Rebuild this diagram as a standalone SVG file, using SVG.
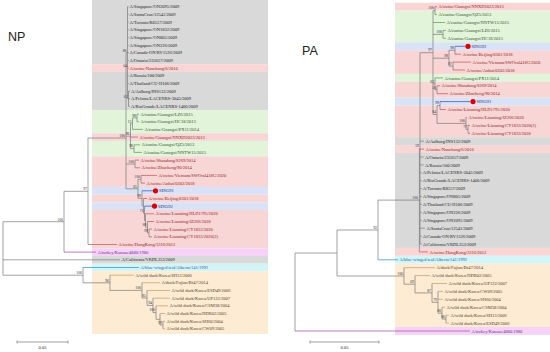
<svg xmlns="http://www.w3.org/2000/svg" width="550" height="352" viewBox="0 0 550 352">
<style>
.t{font-family:"Liberation Serif","Times New Roman",serif;font-size:4.5px}
.pd{fill:#1a1a1a}.sw{fill:#8e1c1c}.cn{fill:#2c552c}.sd{fill:#1f3480}.tk{fill:#6a2c96}.tl{fill:#1f5f9a}.dk{fill:#4f3f26}
.bs{font-family:"Liberation Serif","Times New Roman",serif;font-size:3.8px;fill:#333;text-anchor:end}
.e{fill:none;stroke:#7a7a7a;stroke-width:0.7}
.es{stroke:#c0504d}.ec{stroke:#5a9a4a}.eb{stroke:#2e4fb8}.et{stroke:#a040b0}.el{stroke:#2090c8}.ed{stroke:#c89a5a}
.dot{fill:#dd0000}
.title{font-family:"Liberation Sans",Arial,sans-serif;font-size:12.5px;fill:#222}
.g{fill:#d9d9d9}.p{fill:#f9d6d6}.gr{fill:#e2f4d9}.b{fill:#d9e2f6}.m{fill:#f6d3f6}.c{fill:#d3f5f7}.o{fill:#fdebd3}
</style>
<rect width="550" height="352" fill="#fff"/>
<g id="bands">
<rect class="g" x="92" y="0" width="176" height="64.2"/>
<rect class="p" x="92" y="64.2" width="176" height="7.7"/>
<rect class="g" x="92" y="71.9" width="176" height="38.35"/>
<rect class="gr" x="92" y="110.25" width="176" height="23.01"/>
<rect class="p" x="92" y="133.26" width="176" height="7.67"/>
<rect class="gr" x="92" y="140.93" width="176" height="15.34"/>
<rect class="p" x="92" y="156.27" width="176" height="30.68"/>
<rect class="b" x="92" y="186.95" width="176" height="7.67"/>
<rect class="p" x="92" y="194.62" width="176" height="7.67"/>
<rect class="b" x="92" y="202.29" width="176" height="7.67"/>
<rect class="p" x="92" y="209.96" width="176" height="38.35"/>
<rect class="m" x="92" y="248.31" width="176" height="7.67"/>
<rect class="g" x="92" y="255.98" width="176" height="7.67"/>
<rect class="c" x="92" y="263.65" width="176" height="7.67"/>
<rect class="o" x="92" y="271.32" width="176" height="62.68"/>
<rect class="p" x="395" y="2.75" width="155" height="7.9"/>
<rect class="gr" x="395" y="10.65" width="155" height="31.65"/>
<rect class="b" x="395" y="42.3" width="155" height="7.9"/>
<rect class="p" x="395" y="50.2" width="155" height="23.7"/>
<rect class="gr" x="395" y="73.9" width="155" height="7.9"/>
<rect class="p" x="395" y="81.8" width="155" height="15.9"/>
<rect class="b" x="395" y="97.7" width="155" height="7.9"/>
<rect class="p" x="395" y="105.6" width="155" height="31.6"/>
<rect class="g" x="395" y="137.2" width="155" height="7.9"/>
<rect class="p" x="395" y="145.1" width="155" height="7.9"/>
<rect class="g" x="395" y="153" width="155" height="94.9"/>
<rect class="p" x="395" y="247.9" width="155" height="7.9"/>
<rect class="c" x="395" y="255.8" width="155" height="7.9"/>
<rect class="o" x="395" y="263.7" width="155" height="63.3"/>
<rect class="m" x="395" y="327" width="155" height="7.9"/>
</g>
<text class="title" x="8" y="41">NP</text>
<text class="title" x="302" y="55">PA</text>
<g id="connectors">
<path class="e" d="M3 221.7V275.2M3 221.7H64M64 191.3V252.1M64 191.3H88M88 138V244.5M88 138H126M126 52.7V188.8M126 52.7H127.5M127.5 6.7V98.7M127.5 98.7H128.5M128.5 91.1V106.4M126 136.2H130.5M130.5 123.7V148.6M130.5 123.7H132.5M132.5 117.9V129.4M132.5 117.9H137M137 114.1V121.8M130.5 148.6H134M134 144.8V152.4M126 164H135M135 160.1V167.8M126 188.8H138M138 179.3V198.3M138 179.3H141M141 175.4V183.1M138 198.3H142M142 190.8V205.9M142 205.9H143.5M143.5 198.5V213.3M143.5 213.3H144.5M144.5 206.1V220.5M144.5 220.5H145.5M145.5 213.8V227.2M145.5 227.2H147.5M147.5 221.5V233M147.5 233H149M149 229.1V236.8M3 275.2H83M83 267.5V282.8M83 282.8H110M110 275.2V290.4M110 290.4H142M142 282.8V298M142 298H147M147 290.5V305.4M147 305.4H153M153 298.2V312.6M153 312.6H156M156 305.8V319.3M156 319.3H160M160 313.5V325M160 325H163M163 321.2V328.8"/>
<path class="e" d="M127.5 6.7H128.7M127.5 14.4H128.7M127.5 22H128.7M127.5 29.7H128.7M127.5 37.4H128.7M127.5 45.1H128.7M127.5 52.7H128.7M127.5 60.4H128.7M127.5 75.7H128.7M127.5 83.4H128.7M128.5 91.1H130M128.5 98.7H130M128.5 106.4H130M3 259.8H120"/>
<path class="e es" d="M127.5 68.1H128.7M130.5 137.1H138M135 160.1H139M135 167.8H140M141 175.4H157M141 183.1H145M143.5 198.5H147M145.5 213.8H154M147.5 221.5H154M149 229.1H152M149 236.8H152M88 244.5H117"/>
<path class="e ec" d="M137 114.1H139M137 121.8H139M132.5 129.4H143M134 144.8H140M134 152.4H142"/>
<path class="e eb" d="M142 190.8H153M144.5 206.1H152"/>
<path class="e et" d="M64 252.1H96"/>
<path class="e el" d="M83 267.5H139"/>
<path class="e ed" d="M110 275.2H134M142 282.8H160M147 290.5H170M153 298.2H170M156 305.8H168M160 313.5H165M163 321.2H165M163 328.8H165"/>
<path class="e" d="M295 253V331M295 253H337M337 230V276M337 230H378M378 200.1V259.8M378 200.1H419.4M419.4 148.4V251.9M419.4 148.4H420M420 52.7V244M420 52.7H433M433 10.7V114.5M433 10.7H435M435 6.7V14.6M433 34.4H443M443 30.4V38.3M433 58.2H449M449 50.3V66.1M449 50.3H455M455 46.3V54.2M449 66.1H453M453 62.1V70M433 83.8H435M435 77.9V89.8M435 89.8H437M437 85.8V93.7M433 114.5H437M437 105.6V123.4M437 105.6H440M440 101.6V109.5M437 123.4H466M466 117.4V129.4M466 129.4H468M468 125.4V133.3M337 276H404M404 267.7V284.2M404 284.2H415M415 275.6V292.9M415 292.9H432M432 283.5V302.3M432 302.3H438M438 291.4V313.2M438 313.2H442M442 307.2V319.1M442 319.1H446M446 315.2V323.1"/>
<path class="e" d="M420 141.2H424M420 157H423.5M420 164.9H423.5M420 172.8H421.8M420 180.7H421.8M420 188.6H421.8M420 196.5H421.8M420 204.4H421.8M420 212.3H421.8M420 220.3H421.8M420 228.2H425M420 236.1H421.8M420 244H421.8"/>
<path class="e es" d="M435 6.7H437M455 54.2H461M453 62.1H471M453 70H465M437 85.8H440M437 93.7H448M440 109.5H446M466 117.4H467M468 125.4H470M468 133.3H470M420 149.1H424M419.4 251.9H428"/>
<path class="e ec" d="M435 14.6H437M433 22.5H445M443 30.4H446M443 38.3H446M435 77.9H443"/>
<path class="e eb" d="M455 46.3H465M440 101.6H470"/>
<path class="e el" d="M378 259.8H398"/>
<path class="e ed" d="M404 267.7H435M415 275.6H430M432 283.5H447M438 291.4H443M438 299.3H443M442 307.2H445M446 315.2H449M446 323.1H449"/>
<path class="e et" d="M295 331H470"/>
</g>
<g id="support">
<text class="bs" x="63" y="220.5">100</text>
<text class="bs" x="87" y="190">97</text>
<text class="bs" x="125" y="136.8">100</text>
<text class="bs" x="126.5" y="51.5">88</text>
<text class="bs" x="127" y="67">64</text>
<text class="bs" x="127.5" y="97.5">63</text>
<text class="bs" x="136" y="116.7">98</text>
<text class="bs" x="131.5" y="122.5">13</text>
<text class="bs" x="129.5" y="135">96</text>
<text class="bs" x="133" y="147.4">98</text>
<text class="bs" x="134" y="162.8">100</text>
<text class="bs" x="140" y="178.1">100</text>
<text class="bs" x="137" y="187.6">65</text>
<text class="bs" x="141" y="197.1">99</text>
<text class="bs" x="143.5" y="212.1">71</text>
<text class="bs" x="146.5" y="226">88</text>
<text class="bs" x="148" y="231.8">99</text>
<text class="bs" x="82" y="274">100</text>
<text class="bs" x="109" y="281.6">96</text>
<text class="bs" x="141" y="289.2">100</text>
<text class="bs" x="146" y="296.8">85</text>
<text class="bs" x="152" y="304.2">94</text>
<text class="bs" x="155" y="311.4">100</text>
<text class="bs" x="162" y="323.8">99</text>
<text class="bs" x="434" y="9.4">100</text>
<text class="bs" x="442" y="33.1">100</text>
<text class="bs" x="432" y="51.4">97</text>
<text class="bs" x="454" y="49">98</text>
<text class="bs" x="448" y="56.9">98</text>
<text class="bs" x="452" y="64.8">87</text>
<text class="bs" x="434" y="82.5">62</text>
<text class="bs" x="436" y="88.5">50</text>
<text class="bs" x="439" y="104.3">99</text>
<text class="bs" x="436" y="113.2">84</text>
<text class="bs" x="465" y="122.1">100</text>
<text class="bs" x="467" y="128.1">77</text>
<text class="bs" x="419" y="147.1">59</text>
<text class="bs" x="418" y="198.8">100</text>
<text class="bs" x="377" y="228.7">92</text>
<text class="bs" x="403" y="274.7">100</text>
<text class="bs" x="414" y="282.9">69</text>
<text class="bs" x="431" y="291.6">87</text>
<text class="bs" x="437" y="301">79</text>
<text class="bs" x="441" y="311.9">88</text>
<text class="bs" x="445" y="317.8">86</text>
</g>
<g id="np-leaves">
<g id="np01"><text class="t pd" x="129.5" y="8.3">A/Singapore/ON2095/2009</text></g>
<g id="np02"><text class="t pd" x="129.5" y="16">A/SantaCruz/12541/2009</text></g>
<g id="np03"><text class="t pd" x="129.5" y="23.6">A/Toronto/R8557/2009</text></g>
<g id="np04"><text class="t pd" x="129.5" y="31.3">A/Singapore/ON1832/2009</text></g>
<g id="np05"><text class="t pd" x="129.5" y="39">A/Singapore/ON805/2009</text></g>
<g id="np06"><text class="t pd" x="129.5" y="46.7">A/Singapore/ON226/2009</text></g>
<g id="np07"><text class="t pd" x="129.5" y="54.3">A/Canada-ON/RV1526/2009</text></g>
<g id="np08"><text class="t pd" x="129.5" y="62">A/Ontario/235657/2009</text></g>
<g id="np09"><text class="t sw" x="129.5" y="69.7">A/swine/Nanchang/6/2010</text></g>
<g id="np10"><text class="t pd" x="129.5" y="77.3">A/Russia/100/2009</text></g>
<g id="np11"><text class="t pd" x="129.5" y="85">A/Thailand/CU-H106/2009</text></g>
<g id="np12"><text class="t pd" x="131" y="92.7">A/Aalborg/INS132/2009</text></g>
<g id="np13"><text class="t pd" x="131" y="100.3">A/Pelotas/LACENRS-3045/2009</text></g>
<g id="np14"><text class="t pd" x="131" y="108">A/RioGrande/LACENRS-1406/2009</text></g>
<g id="np15"><text class="t cn" x="140.5" y="115.7">A/canine/Guangxi/LZ6/2015</text></g>
<g id="np16"><text class="t cn" x="140.5" y="123.4">A/canine/Guangxi/HC18/2013</text></g>
<g id="np17"><text class="t cn" x="144.5" y="131">A/canine/Guangxi/PX11/2014</text></g>
<g id="np18"><text class="t sw" x="139.5" y="138.7">A/swine/Guangxi/NNXD2023/2013</text></g>
<g id="np19"><text class="t cn" x="141.5" y="146.4">A/canine/Guangxi/QZ5/2013</text></g>
<g id="np20"><text class="t cn" x="143.5" y="154">A/canine/Guangxi/NNTW15/2015</text></g>
<g id="np21"><text class="t sw" x="140.5" y="161.7">A/swine/Shandong/S269/2014</text></g>
<g id="np22"><text class="t sw" x="141.5" y="169.4">A/swine/Zhucheng/90/2014</text></g>
<g id="np23"><text class="t sw" x="158.5" y="177">A/swine/Vietnam/SWOral418G/2020</text></g>
<g id="np24"><text class="t sw" x="146.5" y="184.7">A/swine/Anhui/0202/2018</text></g>
<g id="np25"><circle class="dot" cx="155.5" cy="190.8" r="2.6"/><text class="t sd" x="159" y="192.4">SD6591</text></g>
<g id="np26"><text class="t sw" x="148.5" y="200.1">A/swine/Beijing/0301/2018</text></g>
<g id="np27"><circle class="dot" cx="154.5" cy="206.1" r="2.6"/><text class="t sd" x="158" y="207.7">SD6592</text></g>
<g id="np28"><text class="t sw" x="155.5" y="215.4">A/swine/Liaoning/HLD1795/2020</text></g>
<g id="np29"><text class="t sw" x="155.5" y="223.1">A/swine/Liaoning/JZ266/2020</text></g>
<g id="np30"><text class="t sw" x="153.5" y="230.7">A/swine/Liaoning/CY1833/2020</text></g>
<g id="np31"><text class="t sw" x="153.5" y="238.4">A/swine/Liaoning/CY1833/2020(2)</text></g>
<g id="np32"><text class="t sw" x="118.5" y="246.1">A/swine/HongKong/3316/2012</text></g>
<g id="np33"><text class="t tk" x="97.5" y="253.7">A/turkey/Kansas/4880/1980</text></g>
<g id="np34"><text class="t pd" x="121.5" y="261.4">A/California/VRDL353/2009</text></g>
<g id="np35"><text class="t tl" x="140.5" y="269.1">A/blue-winged teal/Alberta/141/1992</text></g>
<g id="np36"><text class="t dk" x="135.5" y="276.8">A/wild duck/Korea/SH13/2006</text></g>
<g id="np37"><text class="t dk" x="161.5" y="284.4">A/duck/Fujian/Bf47/2014</text></g>
<g id="np38"><text class="t dk" x="171.5" y="292.1">A/wild duck/Korea/ESD49/2006</text></g>
<g id="np39"><text class="t dk" x="171.5" y="299.8">A/wild duck/Korea/UP122/2007</text></g>
<g id="np40"><text class="t dk" x="169.5" y="307.4">A/wild duck/Korea/CSM38/2004</text></g>
<g id="np41"><text class="t dk" x="166.5" y="315.1">A/wild duck/Korea/HDR02/2005</text></g>
<g id="np42"><text class="t dk" x="166.5" y="322.8">A/wild duck/Korea/SH60/2004</text></g>
<g id="np43"><text class="t dk" x="166.5" y="330.4">A/wild duck/Korea/CW09/2005</text></g>
</g>
<g id="pa-leaves">
<g id="pa01"><text class="t sw" x="438.5" y="8.3">A/swine/Guangxi/NNXD2023/2013</text></g>
<g id="pa02"><text class="t cn" x="438.5" y="16.2">A/canine/Guangxi/QZ5/2013</text></g>
<g id="pa03"><text class="t cn" x="446.5" y="24.1">A/canine/Guangxi/NNTW15/2015</text></g>
<g id="pa04"><text class="t cn" x="447.5" y="32">A/canine/Guangxi/LZ6/2015</text></g>
<g id="pa05"><text class="t cn" x="447.5" y="39.9">A/canine/Guangxi/HC18/2013</text></g>
<g id="pa06"><circle class="dot" cx="468" cy="46.3" r="2.6"/><text class="t sd" x="471.5" y="47.9">SD6592</text></g>
<g id="pa07"><text class="t sw" x="462.5" y="55.8">A/swine/Beijing/0301/2018</text></g>
<g id="pa08"><text class="t sw" x="472.5" y="63.7">A/swine/Vietnam/SWOral418G/2020</text></g>
<g id="pa09"><text class="t sw" x="466.5" y="71.6">A/swine/Anhui/0202/2018</text></g>
<g id="pa10"><text class="t cn" x="444.5" y="79.5">A/canine/Guangxi/PX11/2014</text></g>
<g id="pa11"><text class="t sw" x="441.5" y="87.4">A/swine/Shandong/S269/2014</text></g>
<g id="pa12"><text class="t sw" x="449.5" y="95.3">A/swine/Zhucheng/90/2014</text></g>
<g id="pa13"><circle class="dot" cx="473" cy="101.6" r="2.6"/><text class="t sd" x="476.5" y="103.2">SD6591</text></g>
<g id="pa14"><text class="t sw" x="447.5" y="111.1">A/swine/Liaoning/HLD1795/2020</text></g>
<g id="pa15"><text class="t sw" x="468.5" y="119">A/swine/Liaoning/JZ266/2020</text></g>
<g id="pa16"><text class="t sw" x="471.5" y="127">A/swine/Liaoning/CY1833/2020(2)</text></g>
<g id="pa17"><text class="t sw" x="471.5" y="134.9">A/swine/Liaoning/CY1833/2020</text></g>
<g id="pa18"><text class="t pd" x="425.5" y="142.8">A/Aalborg/INS132/2009</text></g>
<g id="pa19"><text class="t sw" x="425.5" y="150.7">A/swine/Nanchang/6/2010</text></g>
<g id="pa20"><text class="t pd" x="425" y="158.6">A/Ontario/235657/2009</text></g>
<g id="pa21"><text class="t pd" x="425" y="166.5">A/Russia/100/2009</text></g>
<g id="pa22"><text class="t pd" x="422.8" y="174.4">A/Pelotas/LACENRS-3045/2009</text></g>
<g id="pa23"><text class="t pd" x="422.8" y="182.3">A/RioGrande/LACENRS-1406/2009</text></g>
<g id="pa24"><text class="t pd" x="422.8" y="190.2">A/Toronto/R8557/2009</text></g>
<g id="pa25"><text class="t pd" x="422.8" y="198.1">A/Singapore/ON805/2009</text></g>
<g id="pa26"><text class="t pd" x="422.8" y="206">A/Thailand/CU-H106/2009</text></g>
<g id="pa27"><text class="t pd" x="422.8" y="213.9">A/Singapore/ON226/2009</text></g>
<g id="pa28"><text class="t pd" x="422.8" y="221.9">A/Singapore/ON2095/2009</text></g>
<g id="pa29"><text class="t pd" x="426.5" y="229.8">A/SantaCruz/12541/2009</text></g>
<g id="pa30"><text class="t pd" x="422.8" y="237.7">A/Canada-ON/RV1526/2009</text></g>
<g id="pa31"><text class="t pd" x="422.8" y="245.6">A/California/VRDL353/2009</text></g>
<g id="pa32"><text class="t sw" x="429.5" y="253.5">A/swine/HongKong/3316/2012</text></g>
<g id="pa33"><text class="t tl" x="399.5" y="261.4">A/blue-winged teal/Alberta/141/1992</text></g>
<g id="pa34"><text class="t dk" x="436.5" y="269.3">A/duck/Fujian/Bf47/2014</text></g>
<g id="pa35"><text class="t dk" x="431.5" y="277.2">A/wild duck/Korea/HDR02/2005</text></g>
<g id="pa36"><text class="t dk" x="448.5" y="285.1">A/wild duck/Korea/UP122/2007</text></g>
<g id="pa37"><text class="t dk" x="444.5" y="293">A/wild duck/Korea/CW09/2005</text></g>
<g id="pa38"><text class="t dk" x="444.5" y="300.9">A/wild duck/Korea/SH60/2004</text></g>
<g id="pa39"><text class="t dk" x="446.5" y="308.8">A/wild duck/Korea/CSM38/2004</text></g>
<g id="pa40"><text class="t dk" x="450.5" y="316.8">A/wild duck/Korea/SH13/2006</text></g>
<g id="pa41"><text class="t dk" x="450.5" y="324.7">A/wild duck/Korea/ESD49/2006</text></g>
<g id="pa42"><text class="t tk" x="471.5" y="332.6">A/turkey/Kansas/4880/1980</text></g>
</g>
<g id="scales">
<path class="e" d="M17 342H68M17 340.5V343.5M68 340.5V343.5M310 342H379M310 340.5V343.5M379 340.5V343.5"/>
<text class="t pd" x="42.5" y="348.5" text-anchor="middle">0.05</text>
<text class="t pd" x="344.5" y="348.5" text-anchor="middle">0.05</text>
</g>
</svg>
